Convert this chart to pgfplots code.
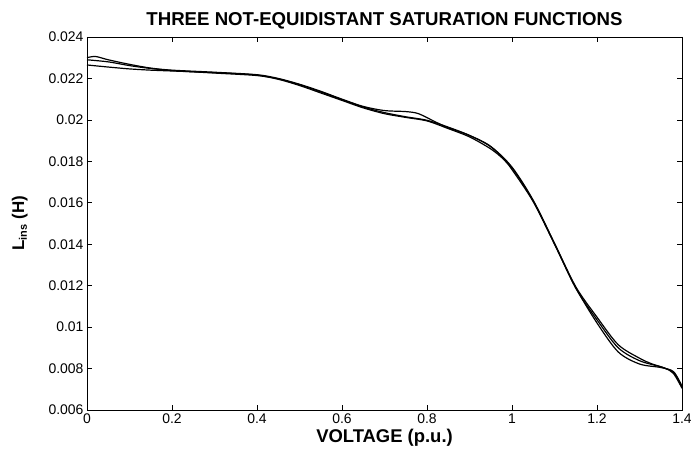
\documentclass[border=0pt]{standalone}
\usepackage{pgfplots}
\pgfplotsset{compat=1.18}
\usepackage{fontspec}
\setmainfont{Liberation Sans}
\begin{document}
\begin{tikzpicture}
\begin{axis}[
  scale only axis,
  width=595bp, height=373bp,
  xmin=0, xmax=1.4, ymin=0.006, ymax=0.024,
  xtick={0,0.2,...,1.4},
  ytick={0.006,0.008,...,0.0241},
  xticklabels={0,0.2,0.4,0.6,0.8,1,1.2,1.4},
  yticklabels={0.006,0.008,0.01,0.012,0.014,0.016,0.018,0.02,0.022,0.024},
  scaled y ticks=false,
  tick align=inside,
  tick pos=both,
  major tick length=5bp,
  tick style={black, line width=0.6pt},
  axis line style={black, line width=0.6pt},
  tick label style={font=\fontsize{14}{16}\selectfont},
  /pgf/number format/assume math mode=true,
  title={\textbf{THREE NOT-EQUIDISTANT SATURATION FUNCTIONS}},
  title style={font=\fontsize{18.7}{20}\selectfont, yshift=-2bp},
  xlabel={\textbf{VOLTAGE (p.u.)}},
  xlabel style={font=\fontsize{18.5}{20}\selectfont, yshift=1bp},
  ylabel={\textbf{L$_{\textbf{\fontsize{11}{12}\selectfont ins}}$ (H)}},
  ylabel style={font=\fontsize{17}{18}\selectfont, yshift=14bp},
]
\addplot[black, line width=1.2pt, smooth] coordinates {
(0,0.02265)(0.05,0.02255)(0.1,0.02246)(0.15,0.02240)(0.2,0.02236)(0.25,0.02232)
(0.3,0.02228)(0.35,0.02223)(0.4,0.02216)(0.45,0.02198)(0.5,0.02170)(0.55,0.02135)
(0.6,0.02098)(0.65,0.02062)(0.7,0.02035)(0.75,0.02015)(0.8,0.01998)(0.85,0.01965)
(0.9,0.01925)(0.95,0.01870)(1.0,0.01768)(1.05,0.01608)(1.1,0.01402)(1.15,0.01188)
(1.2,0.01035)(1.25,0.00900)(1.3,0.00838)(1.35,0.00808)(1.38,0.00780)(1.4,0.00710)
};
\addplot[black, line width=1.2pt, smooth] coordinates {
(0,0.02300)(0.02,0.02306)(0.05,0.02290)(0.1,0.02268)(0.15,0.02250)(0.2,0.02240)
(0.3,0.02230)(0.4,0.02218)(0.45,0.02200)(0.5,0.02172)(0.55,0.02138)(0.6,0.02100)
(0.65,0.02065)(0.7,0.02045)(0.75,0.02040)(0.78,0.02030)(0.82,0.01990)(0.85,0.01962)
(0.9,0.01925)(0.95,0.01872)(1.0,0.01772)(1.05,0.01612)(1.1,0.01405)(1.15,0.01195)
(1.2,0.01048)(1.25,0.00915)(1.3,0.00850)(1.33,0.00822)(1.36,0.00802)(1.38,0.00776)(1.4,0.00705)
};
\addplot[black, line width=1.2pt, smooth] coordinates {
(0,0.02290)(0.05,0.02280)(0.1,0.02262)(0.15,0.02248)(0.2,0.02238)(0.3,0.02226)
(0.4,0.02214)(0.45,0.02196)(0.5,0.02166)(0.55,0.02130)(0.6,0.02094)(0.65,0.02058)
(0.7,0.02030)(0.75,0.02012)(0.8,0.01995)(0.85,0.01958)(0.9,0.01918)(0.95,0.01860)
(0.98,0.01810)(1.0,0.01760)(1.05,0.01605)(1.1,0.01400)(1.15,0.01190)(1.2,0.01020)
(1.25,0.00880)(1.3,0.00822)(1.35,0.00805)(1.38,0.00785)(1.4,0.00715)
};
\end{axis}
\pgfresetboundingbox
\path (current axis.south west) ++(-87bp,-46bp) rectangle ([shift={(9bp,37bp)}]current axis.north east);
\end{tikzpicture}
\end{document}
